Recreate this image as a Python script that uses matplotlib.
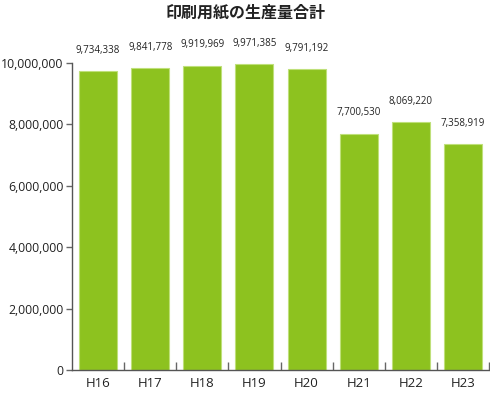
import matplotlib
matplotlib.use('Agg')
import matplotlib.pyplot as plt
import numpy as np

plt.rcParams['font.family'] = ['Noto Sans CJK JP', 'DejaVu Sans']

# データ
years = ['H16', 'H17', 'H18', 'H19', 'H20', 'H21', 'H22', 'H23']
amounts = [9734338, 9841778, 9919969, 9971385, 9791192, 7700530, 8069220, 7358919]
yticks = [0, 2000000, 4000000, 6000000, 8000000, 10000000]

fig = plt.figure(figsize=(4.9, 3.93), dpi=100)
ax = fig.add_axes([0.147, 0.0585, 0.851, 0.781])

x = np.arange(len(years))
ax.bar(x, amounts, width=0.73, color='#8dc21f', edgecolor='#bfe07a', linewidth=0.8)

for xi, v in zip(x, amounts):
    ax.annotate(f'{v:,}', (xi, v), xytext=(0, 11), textcoords='offset points',
                ha='center', va='bottom', fontsize=7, color='#222222',
                family='Open Sans')

ax.set_xlim(-0.5, len(years) - 0.5)
ax.set_ylim(0, 10000000)
ax.set_yticks(yticks)
ax.set_yticklabels([f'{t:,}' for t in yticks], fontsize=8.8, color='#222222',
                   family='Open Sans')
ax.set_xticks(x)
ax.set_xticklabels(years, fontsize=9.5, color='#222222', family='Open Sans')
ax.tick_params(axis='x', length=0, pad=5)
ax.tick_params(axis='y', length=4.5, color='#666666', width=1, pad=1.5)
ax.set_xticks(np.arange(0.5, len(years), 1.0), minor=True)
ax.tick_params(axis='x', which='minor', direction='in', length=6, color='#666666', width=1)

for s in ['top', 'right']:
    ax.spines[s].set_visible(False)
for s in ['left', 'bottom']:
    ax.spines[s].set_color('#555555')
    ax.spines[s].set_linewidth(1)

fig.text(0.5, 0.968, '印刷用紙の生産量合計', ha='center', va='center',
         fontsize=11.5, fontweight='bold', color='#222222')

plt.savefig('out.png', dpi=100)
